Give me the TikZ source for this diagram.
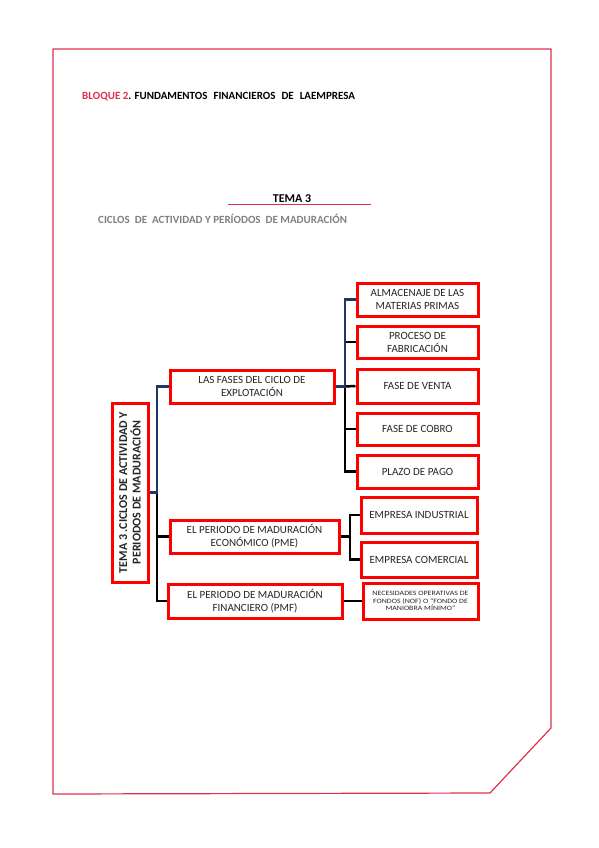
\documentclass[tikz,border=0pt]{standalone}
\usepackage{fontspec}
\setmainfont{Carlito}
\newfontfamily\widefont[FakeStretch=1.2]{Carlito}
\definecolor{frame}{RGB}{222,49,81}
\definecolor{boxred}{RGB}{255,0,0}
\definecolor{navy}{RGB}{31,56,100}
\definecolor{txt}{RGB}{38,38,38}
\begin{document}
\begin{tikzpicture}[x=1pt,y=-1pt,every text node part/.style={align=center},
    box/.style={draw=boxred,line width=3pt,inner sep=0pt,text=txt,font=\fontsize{11}{13}\selectfont},
    blueline/.style={draw=navy,line width=2.5pt},
    blackline/.style={draw=black,line width=2.5pt}]

    \useasboundingbox (0,0) rectangle (599,848);

    % --------------------------------------------------------- %
    % ------------- page frame and headings
    % --------------------------------------------------------- %
    \draw[frame,line width=1.2pt] (53,49) -- (551,49) -- (551,728) -- (490,793) -- (53,794) -- cycle;
    \node[anchor=west,inner sep=0pt,font=\bfseries\fontsize{11}{13}\selectfont] (bloque) at (82,97) {\textcolor{frame}{BLOQUE 2}. FUNDAMENTOS\hspace{6pt}FINANCIEROS\hspace{6pt}DE\hspace{6pt}LAEMPRESA};
    \node[inner sep=0pt,font=\bfseries\fontsize{12}{14}\selectfont] (tema) at (292,199) {TEMA 3};
    \draw[frame,line width=1.5pt] (228,204.5) -- (371,204.5);
    \node[anchor=west,inner sep=0pt,text=gray,font=\bfseries\fontsize{11}{13}\selectfont] (ciclos) at (98,219) {CICLOS\ \ DE\ \ ACTIVIDAD Y PERÍODOS\ \ DE MADURACIÓN};

    % --------------------------------------------------------- %
    % ------------- main node (tema)
    % --------------------------------------------------------- %
    \node[box,rotate=90,minimum width=179pt,minimum height=36pt,font=\bfseries\fontsize{12}{13.5}\selectfont] (root) at (130,492.5) {TEMA 3 .CICLOS DE ACTIVIDAD Y\\PERIODOS DE MADURACIÓN};

    % --------------------------------------------------------- %
    % ------------ second level
    % --------------------------------------------------------- %
    % --- fases node
    \node[box,minimum width=164pt,minimum height=33pt] (fases) at (252,386.5) {LAS FASES DEL CICLO DE\\EXPLOTACIÓN};
    % --- economico node
    \node[box,minimum width=169pt,minimum height=33pt] (econ) at (254.5,536.5) {EL PERIODO DE MADURACIÓN\\ECONÓMICO (PME)};
    % --- financiero node
    \node[box,minimum width=174pt,minimum height=34pt] (finan) at (255,601) {EL PERIODO DE MADURACIÓN\\FINANCIERO (PMF)};

    % --------------------------------------------------------- %
    % ------------ third level
    % --------------------------------------------------------- %
    \node[box,minimum width=121pt,minimum height=33pt] (almac) at (417.5,299.5) {ALMACENAJE DE LAS\\MATERIAS PRIMAS};
    \node[box,minimum width=121pt,minimum height=32pt] (proceso) at (417.5,342) {PROCESO DE\\FABRICACIÓN};
    \node[box,minimum width=121pt,minimum height=34pt] (venta) at (417.5,386) {FASE DE VENTA};
    \node[box,minimum width=121pt,minimum height=32pt] (cobro) at (417.5,429) {FASE DE COBRO};
    \node[box,minimum width=121pt,minimum height=33pt] (plazo) at (417.5,471.5) {PLAZO DE PAGO};
    \node[box,minimum width=116pt,minimum height=36pt] (indus) at (419,515) {EMPRESA INDUSTRIAL};
    \node[box,minimum width=116pt,minimum height=35pt] (comer) at (419,559.5) {EMPRESA COMERCIAL};
    \node[box,minimum width=115pt,minimum height=36pt,font=\widefont\fontsize{6.6}{7.6}\selectfont] (nof) at (420.5,601) {NECESIDADES OPERATIVAS DE\\FONDOS (NOF) O “FONDO DE\\MANIOBRA MÍNIMO”};

    % --------------------------------------------------------- %
    % ------------ connectors
    % --------------------------------------------------------- %
    \coordinate (jroot) at (157,492.5);
    \coordinate (jfases) at (345,386.5);
    \coordinate (jecon) at (350,536.5);
    \draw[blackline] (jroot) |- (econ.west);
    \draw[blackline] (jroot) |- (finan.west);
    \draw[blueline] (root.south) -- (jroot) |- (fases.west);
    \draw[blackline] (jfases) |- (proceso.west);
    \draw[blackline] (jfases) -- (venta.west);
    \draw[blackline] (jfases) |- (cobro.west);
    \draw[blackline] (jfases) |- (plazo.west);
    \draw[blueline] (fases.east) -- (jfases) |- (almac.west);
    \draw[blackline] (econ.east) -- (jecon) |- (indus.west);
    \draw[blackline] (jecon) |- (comer.west);
    \draw[blackline] (finan.east) -- (nof.west);

  \end{tikzpicture}
\end{document}
